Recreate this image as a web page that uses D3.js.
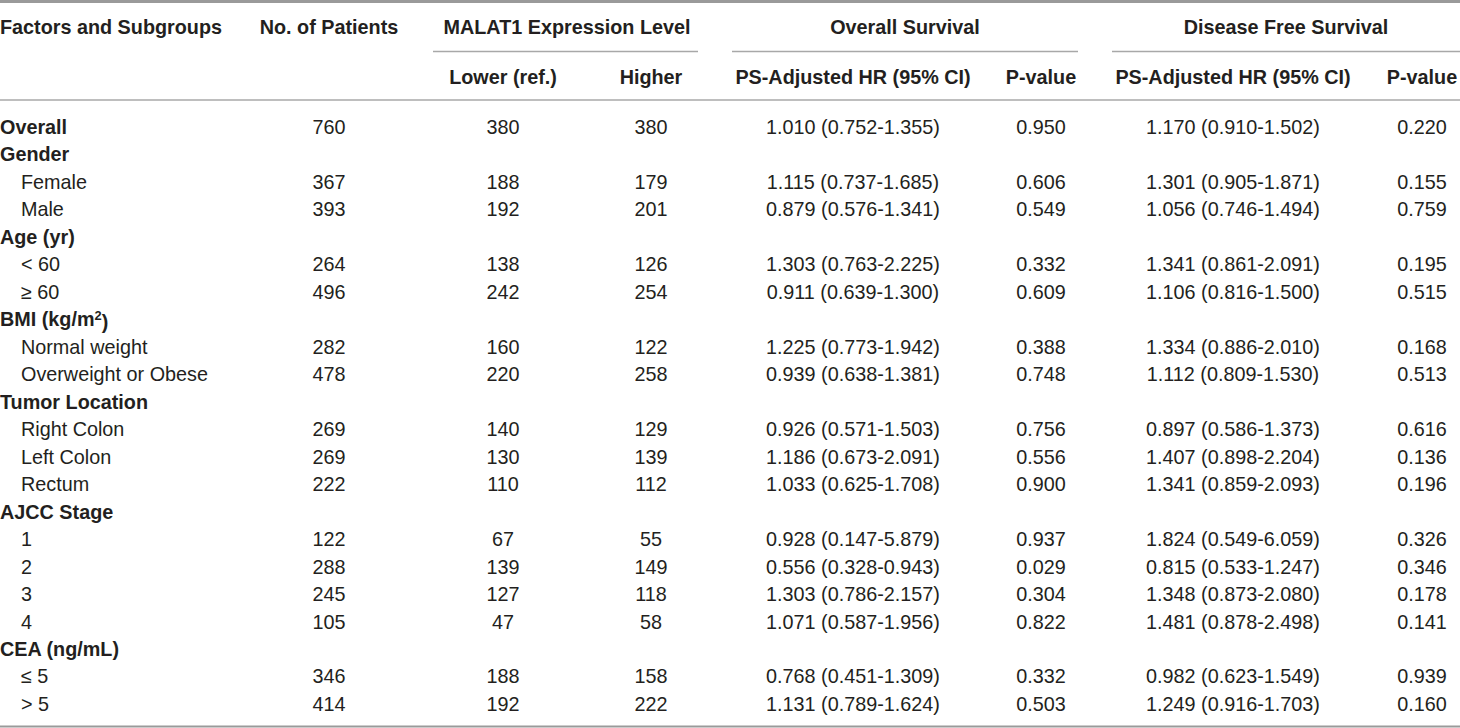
<!DOCTYPE html>
<html>
<head>
<meta charset="utf-8">
<script src="https://cdn.jsdelivr.net/npm/d3@7"></script>
<style>
  body { margin: 0; background: #fff; }
  svg text { font-family: "Liberation Sans", Arial, sans-serif; fill: #231f20; }
</style>
</head>
<body>
<div id="chart-area"></div>
<script>

// table content
let rowLabels = ["Overall", "Gender", "Female", "Male", "Age (yr)", "< 60", "\u2265 60",
	"BMI (kg/m", "Normal weight", "Overweight or Obese", "Tumor Location", "Right Colon",
	"Left Colon", "Rectum", "AJCC Stage", "1", "2", "3", "4", "CEA (ng/mL)", "\u2264 5", "> 5"];
let rowIsGroup = [1, 1, 0, 0, 1, 0, 0, 1, 0, 0, 1, 0, 0, 0, 1, 0, 0, 0, 0, 1, 0, 0];

let patients = ["760", null, "367", "393", null, "264", "496", null, "282", "478", null, "269", "269", "222",
	null, "122", "288", "245", "105", null, "346", "414"];
let lowerLevel = ["380", null, "188", "192", null, "138", "242", null, "160", "220", null, "140", "130", "110",
	null, "67", "139", "127", "47", null, "188", "192"];
let higherLevel = ["380", null, "179", "201", null, "126", "254", null, "122", "258", null, "129", "139", "112",
	null, "55", "149", "118", "58", null, "158", "222"];
let osHR = ["1.010 (0.752-1.355)", null, "1.115 (0.737-1.685)", "0.879 (0.576-1.341)", null,
	"1.303 (0.763-2.225)", "0.911 (0.639-1.300)", null, "1.225 (0.773-1.942)", "0.939 (0.638-1.381)", null,
	"0.926 (0.571-1.503)", "1.186 (0.673-2.091)", "1.033 (0.625-1.708)", null,
	"0.928 (0.147-5.879)", "0.556 (0.328-0.943)", "1.303 (0.786-2.157)", "1.071 (0.587-1.956)", null,
	"0.768 (0.451-1.309)", "1.131 (0.789-1.624)"];
let osP = ["0.950", null, "0.606", "0.549", null, "0.332", "0.609", null, "0.388", "0.748", null,
	"0.756", "0.556", "0.900", null, "0.937", "0.029", "0.304", "0.822", null, "0.332", "0.503"];
let dfsHR = ["1.170 (0.910-1.502)", null, "1.301 (0.905-1.871)", "1.056 (0.746-1.494)", null,
	"1.341 (0.861-2.091)", "1.106 (0.816-1.500)", null, "1.334 (0.886-2.010)", "1.112 (0.809-1.530)", null,
	"0.897 (0.586-1.373)", "1.407 (0.898-2.204)", "1.341 (0.859-2.093)", null,
	"1.824 (0.549-6.059)", "0.815 (0.533-1.247)", "1.348 (0.873-2.080)", "1.481 (0.878-2.498)", null,
	"0.982 (0.623-1.549)", "1.249 (0.916-1.703)"];
let dfsP = ["0.220", null, "0.155", "0.759", null, "0.195", "0.515", null, "0.168", "0.513", null,
	"0.616", "0.136", "0.196", null, "0.326", "0.346", "0.178", "0.141", null, "0.939", "0.160"];

let topHeaders = ["Factors and Subgroups", "No. of Patients", "MALAT1 Expression Level", "Overall Survival", "Disease Free Survival"];
let subHeaders = ["Lower (ref.)", "Higher", "PS-Adjusted HR (95% CI)", "P-value", "PS-Adjusted HR (95% CI)", "P-value"];

let width = 1460,
	height = 728;

let svg = d3.select("#chart-area").append("svg")
	.attr("width", width)
	.attr("height", height);

// data columns and their centres
let colKeys = ["patients", "lower", "higher", "osHR", "osP", "dfsHR", "dfsP"];
let colX = d3.scaleOrdinal()
	.domain(colKeys)
	.range([329, 503, 651, 853, 1041, 1233, 1422]);
let colData = [patients, lowerLevel, higherLevel, osHR, osP, dfsHR, dfsP];

// rows
let rowY = d3.scalePoint()
	.domain(d3.range(rowLabels.length))
	.range([127, 704]);

let fs = 19.8;

// rules
svg.append("line").attr("x1", 0).attr("x2", width).attr("y1", 1.5).attr("y2", 1.5)
	.attr("stroke", "#9a9a9a").attr("stroke-width", 3);
svg.append("line").attr("x1", 0).attr("x2", width).attr("y1", 100).attr("y2", 100)
	.attr("stroke", "#a8a8a8").attr("stroke-width", 1.5);
svg.append("line").attr("x1", 0).attr("x2", width).attr("y1", 726.5).attr("y2", 726.5)
	.attr("stroke", "#9a9a9a").attr("stroke-width", 2);

// spanner underlines
let spans = [[433, 698], [732, 1078], [1112, 1460]];
svg.selectAll(".span-line").data(spans).enter().append("line")
	.attr("class", "span-line")
	.attr("x1", d => d[0]).attr("x2", d => d[1])
	.attr("y1", 51.5).attr("y2", 51.5)
	.attr("stroke", "#a8a8a8").attr("stroke-width", 1.5);

// header row 1
let topX = [0, colX("patients"), 567, 905, 1286];
svg.selectAll(".top-head").data(topHeaders).enter().append("text")
	.attr("class", "top-head")
	.attr("x", (d, i) => topX[i])
	.attr("y", 27)
	.attr("dy", "0.35em")
	.attr("text-anchor", (d, i) => i == 0 ? "start" : "middle")
	.attr("font-weight", "bold")
	.attr("font-size", fs)
	.text(d => d);

// header row 2
svg.selectAll(".sub-head").data(subHeaders).enter().append("text")
	.attr("class", "sub-head")
	.attr("x", (d, i) => colX(colKeys[i + 1]))
	.attr("y", 77)
	.attr("dy", "0.35em")
	.attr("text-anchor", "middle")
	.attr("font-weight", "bold")
	.attr("font-size", fs)
	.text(d => d);

// row labels
let labels = svg.selectAll(".row-label").data(rowLabels).enter().append("text")
	.attr("class", "row-label")
	.attr("x", (d, i) => rowIsGroup[i] ? 0 : 21)
	.attr("y", (d, i) => rowY(i))
	.attr("dy", "0.35em")
	.attr("font-weight", (d, i) => rowIsGroup[i] ? "bold" : "normal")
	.attr("font-size", fs)
	.text(d => d);

// superscript and closing paren for BMI
labels.filter(d => d == "BMI (kg/m").each(function () {
	let t = d3.select(this);
	t.append("tspan").attr("dy", "-0.45em").attr("font-size", fs * 0.65).text("2");
	t.append("tspan").attr("dy", "0.45em").text(")");
});

// cell values
colData.forEach((col, c) => {
	let cells = col.map((v, i) => ({v: v, i: i})).filter(d => d.v != null);
	svg.selectAll(".cell-" + c).data(cells).enter()
		.append("text")
		.attr("class", "cell-" + c)
		.attr("x", colX(colKeys[c]))
		.attr("y", d => rowY(d.i))
		.attr("dy", "0.35em")
		.attr("text-anchor", "middle")
		.attr("font-size", fs)
		.text(d => d.v);
});

</script>
</body>
</html>
